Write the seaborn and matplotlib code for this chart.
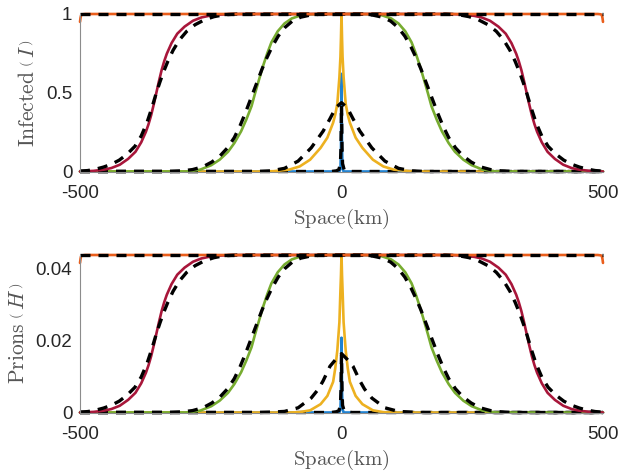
import matplotlib
matplotlib.use("Agg")
import matplotlib.pyplot as plt
import seaborn as sns

# ---------------- data ----------------
x_ticks = [-500, 0, 500]
x_tick_labels = ["-500", "0", "500"]
I_ticks = [0, 0.5, 1]
I_tick_labels = ["0", "0.5", "1"]
H_ticks = [0, 0.02, 0.04]
H_tick_labels = ["0", "0.02", "0.04"]

# blue snapshot
x_blue = [-500, -4, -2, -1, 0, 1, 2, 4, 500]
I_blue = [0, 0, 0.02, 0.15, 0.62, 0.15, 0.02, 0, 0]
H_blue = [0, 0, 0.001, 0.006, 0.0207, 0.006, 0.001, 0, 0]
x_blue_d = [-500, -20, -10, -5, -2, -1, 0, 1, 2, 5, 10, 20, 500]
I_blue_d = [0, 0, 0.004, 0.012, 0.05, 0.15, 0.42, 0.15, 0.05, 0.012, 0.004, 0, 0]
H_blue_d = [0, 0, 0.0002, 0.0005, 0.002, 0.006, 0.016, 0.006, 0.002, 0.0005, 0.0002, 0, 0]

# yellow snapshot
x_yel = [-500, -160, -130, -100, -80, -60, -40, -27, -16, -12, -8, -4, -2, -1, 0,
         1, 2, 4, 8, 12, 16, 27, 40, 60, 80, 100, 130, 160, 500]
I_yel = [0, 0, 0.002, 0.012, 0.032, 0.075, 0.15, 0.215, 0.31, 0.36, 0.43, 0.6, 0.73, 0.85, 1.0,
         0.85, 0.73, 0.6, 0.43, 0.36, 0.31, 0.215, 0.15, 0.075, 0.032, 0.012, 0.002, 0, 0]
H_yel = [0, 0, 0, 0, 0.0001, 0.0006, 0.0023, 0.0046, 0.0085, 0.0122, 0.0172, 0.025, 0.034, 0.038, 0.0436,
         0.038, 0.034, 0.025, 0.0172, 0.0122, 0.0085, 0.0046, 0.0023, 0.0006, 0.0001, 0, 0, 0, 0]
x_yel_d = [-500, -160, -135, -109, -83, -58, -44, -35, -22, -11, 0,
           11, 22, 35, 44, 58, 83, 109, 135, 160, 500]
I_yel_d = [0, 0, 0.004, 0.02, 0.066, 0.15, 0.215, 0.257, 0.335, 0.405, 0.437,
           0.405, 0.335, 0.257, 0.215, 0.15, 0.066, 0.02, 0.004, 0, 0]
H_yel_d = [0, 0, 0.0001, 0.0003, 0.0013, 0.004, 0.0065, 0.0088, 0.0128, 0.0147, 0.0163,
           0.0147, 0.0128, 0.0088, 0.0065, 0.004, 0.0013, 0.0003, 0.0001, 0, 0]

# green snapshot
x_grn = [-500, -300, -290, -270, -249, -233, -217, -205, -192, -182, -172, -165, -158, -150, -142,
         -134, -122, -109, -95, -77, -60, -40,
         40, 60, 77, 95, 109, 122, 134, 142, 150, 158, 165, 172, 182, 192, 205, 217, 233, 249,
         270, 290, 300, 500]
I_grn = [0, 0, 0.002, 0.012, 0.04, 0.075, 0.125, 0.18, 0.255, 0.33, 0.415, 0.50, 0.58, 0.67, 0.75,
         0.82, 0.89, 0.94, 0.972, 0.992, 0.998, 1.0,
         1.0, 0.998, 0.992, 0.972, 0.94, 0.89, 0.82, 0.75, 0.67, 0.58, 0.50, 0.415, 0.33, 0.255,
         0.18, 0.125, 0.075, 0.04, 0.012, 0.002, 0, 0]
H_grn = [0, 0, 0.00009, 0.00052, 0.00174, 0.00327, 0.00545, 0.00785, 0.01112, 0.01439, 0.01809,
         0.0218, 0.02529, 0.02921, 0.0327, 0.03575, 0.0388, 0.04098, 0.04238, 0.04325, 0.04351, 0.0436,
         0.0436, 0.04351, 0.04325, 0.04238, 0.04098, 0.0388, 0.03575, 0.0327, 0.02921, 0.02529,
         0.0218, 0.01809, 0.01439, 0.01112, 0.00785, 0.00545, 0.00327, 0.00174, 0.00052, 0.00009, 0, 0]
x_grn_d = [-500, -330, -305, -285, -265, -248, -232, -218, -205, -194, -184, -176, -168, -160,
           -152, -143, -133, -121, -108, -94, -78, -60, -40, -20,
           20, 40, 60, 78, 94, 108, 121, 133, 143, 152, 160, 168, 176, 184, 194, 205, 218, 232,
           248, 265, 285, 305, 330, 500]
I_grn_d = [0, 0, 0.004, 0.012, 0.03, 0.06, 0.10, 0.15, 0.215, 0.29, 0.37, 0.44, 0.51, 0.58,
           0.65, 0.72, 0.79, 0.86, 0.915, 0.955, 0.98, 0.993, 0.999, 1.0,
           1.0, 0.999, 0.993, 0.98, 0.955, 0.915, 0.86, 0.79, 0.72, 0.65, 0.58, 0.51, 0.44, 0.37,
           0.29, 0.215, 0.15, 0.10, 0.06, 0.03, 0.012, 0.004, 0, 0]
H_grn_d = [0, 0, 0.00017, 0.00052, 0.00131, 0.00262, 0.00436, 0.00654, 0.00937, 0.01264, 0.01613,
           0.01918, 0.02224, 0.02529, 0.02834, 0.03139, 0.03444, 0.0375, 0.03989, 0.04164, 0.04273,
           0.04329, 0.04356, 0.0436,
           0.0436, 0.04356, 0.04329, 0.04273, 0.04164, 0.03989, 0.0375, 0.03444, 0.03139, 0.02834,
           0.02529, 0.02224, 0.01918, 0.01613, 0.01264, 0.00937, 0.00654, 0.00436, 0.00262, 0.00131,
           0.00052, 0.00017, 0, 0]

# red snapshot
x_red = [-500, -494, -474, -454, -440, -424, -408, -394, -383, -374, -369, -364, -359, -354, -349,
         -344, -339, -334, -325, -314, -300, -284, -268, -254, -234, -214, -190,
         190, 214, 234, 254, 268, 284, 300, 314, 325, 334, 339, 344, 349, 354, 359, 364, 369, 374,
         383, 394, 408, 424, 440, 454, 474, 494, 500]
I_red = [0, 0.001, 0.004, 0.012, 0.022, 0.043, 0.08, 0.125, 0.185, 0.252, 0.30, 0.357, 0.426, 0.5,
         0.574, 0.643, 0.70, 0.748, 0.815, 0.875, 0.92, 0.957, 0.978, 0.988, 0.996, 0.999, 1.0,
         1.0, 0.999, 0.996, 0.988, 0.978, 0.957, 0.92, 0.875, 0.815, 0.748, 0.70, 0.643, 0.574, 0.5,
         0.426, 0.357, 0.30, 0.252, 0.185, 0.125, 0.08, 0.043, 0.022, 0.012, 0.004, 0.001, 0]
H_red = [0, 0.00004, 0.00017, 0.00052, 0.00096, 0.00187, 0.00349, 0.00545, 0.00807, 0.01099,
         0.01308, 0.01557, 0.01857, 0.0218, 0.02503, 0.02803, 0.03052, 0.03261, 0.03553, 0.03815,
         0.04011, 0.04173, 0.04264, 0.04308, 0.04343, 0.04356, 0.0436,
         0.0436, 0.04356, 0.04343, 0.04308, 0.04264, 0.04173, 0.04011, 0.03815, 0.03553, 0.03261,
         0.03052, 0.02803, 0.02503, 0.0218, 0.01857, 0.01557, 0.01308, 0.01099, 0.00807, 0.00545,
         0.00349, 0.00187, 0.00096, 0.00052, 0.00017, 0.00004, 0]
x_red_d = [-500, -485, -470, -455, -440, -425, -410, -395, -383, -372, -363, -354, -347, -340,
           -332, -322, -310, -296, -280, -262, -244, -225, -200,
           200, 225, 244, 262, 280, 296, 310, 322, 332, 340, 347, 354, 363, 372, 383, 395, 410,
           425, 440, 455, 470, 485, 500]
I_red_d = [0.002, 0.006, 0.015, 0.028, 0.046, 0.072, 0.11, 0.16, 0.225, 0.31, 0.40, 0.50, 0.57,
           0.635, 0.70, 0.77, 0.835, 0.89, 0.932, 0.963, 0.983, 0.995, 1.0,
           1.0, 0.995, 0.983, 0.963, 0.932, 0.89, 0.835, 0.77, 0.70, 0.635, 0.57, 0.50, 0.40, 0.31,
           0.225, 0.16, 0.11, 0.072, 0.046, 0.028, 0.015, 0.006, 0.002]
H_red_d = [0.00009, 0.00026, 0.00065, 0.00122, 0.00201, 0.00314, 0.0048, 0.00698, 0.00981,
           0.01352, 0.01744, 0.0218, 0.02485, 0.02769, 0.03052, 0.03357, 0.03641, 0.0388, 0.04064,
           0.04199, 0.04286, 0.04338, 0.0436,
           0.0436, 0.04338, 0.04286, 0.04199, 0.04064, 0.0388, 0.03641, 0.03357, 0.03052, 0.02769,
           0.02485, 0.0218, 0.01744, 0.01352, 0.00981, 0.00698, 0.0048, 0.00314, 0.00201, 0.00122,
           0.00065, 0.00026, 0.00009]

# orange snapshot
x_org = [-500, -499, -498, -496, -490, 490, 496, 498, 499, 500]
I_org = [0.95, 0.975, 0.99, 0.998, 1.0, 1.0, 0.998, 0.99, 0.975, 0.95]
H_org = [0.0414, 0.0425, 0.0432, 0.0435, 0.0436, 0.0436, 0.0435, 0.0432, 0.0425, 0.0414]
x_org_d = [-500, 500]
I_org_d = [1.0, 1.0]
H_org_d = [0.0436, 0.0436]

colors = {"blue": "#1f82d2", "yellow": "#EDB120", "green": "#77AC30",
          "red": "#A8163A", "orange": "#EA5E1C"}

# ---------------- styling ----------------
sns.set_style("white")
plt.rcParams["font.family"] = ["Liberation Sans", "DejaVu Sans"]
plt.rcParams["mathtext.fontset"] = "cm"

fig = plt.figure(figsize=(6.2, 4.71), dpi=100)
ax1 = fig.add_axes([80 / 620, 1 - 171.5 / 471, 523 / 620, 157.5 / 471])
ax2 = fig.add_axes([80 / 620, 1 - 412.5 / 471, 523 / 620, 157.5 / 471])

SOLID_LW = 1.9
DASH_LW = 2.4
DASH = (0, (3.0, 2.4))


def draw(ax, x, y, color=None, dashed=False):
    if dashed:
        sns.lineplot(x=x, y=y, ax=ax, color="black", linewidth=DASH_LW, linestyle=DASH,
                     clip_on=False, errorbar=None, sort=False)
    else:
        sns.lineplot(x=x, y=y, ax=ax, color=color, linewidth=SOLID_LW,
                     clip_on=False, errorbar=None, sort=False)


series = [
    ("blue", x_blue, I_blue, H_blue, x_blue_d, I_blue_d, H_blue_d),
    ("yellow", x_yel, I_yel, H_yel, x_yel_d, I_yel_d, H_yel_d),
    ("green", x_grn, I_grn, H_grn, x_grn_d, I_grn_d, H_grn_d),
    ("red", x_red, I_red, H_red, x_red_d, I_red_d, H_red_d),
    ("orange", x_org, I_org, H_org, x_org_d, I_org_d, H_org_d),
]

for name, xs, I, H, xd, Id, Hd in series:
    draw(ax1, xs, I, colors[name])
    draw(ax1, xd, Id, dashed=True)
    draw(ax2, xs, H, colors[name])
    draw(ax2, xd, Hd, dashed=True)

ax1.set_ylim(0, 1)
ax2.set_ylim(0, 0.0436)
ax1.set_yticks(I_ticks)
ax1.set_yticklabels(I_tick_labels)
ax2.set_yticks(H_ticks)
ax2.set_yticklabels(H_tick_labels)

label_color = "#555555"
for ax, ylab in ((ax1, r"$\mathrm{Infected}\;\left(\,I\,\right)$"),
                 (ax2, r"$\mathrm{Prions}\;\left(\,H\,\right)$")):
    ax.set_xlim(-500, 500)
    ax.set_xticks(x_ticks)
    ax.set_xticklabels(x_tick_labels)
    sns.despine(ax=ax)
    for sp in ("left", "bottom"):
        ax.spines[sp].set_color("#8c8c8c")
        ax.spines[sp].set_linewidth(0.8)
    ax.tick_params(axis="both", direction="in", length=4, width=0.8, color="#8c8c8c",
                   labelsize=13.5, labelcolor="#262626")
    ax.tick_params(axis="x", pad=10)
    ax.tick_params(axis="y", pad=5.5)
    ax.set_xlabel(r"$\mathrm{Space(km)}$", fontsize=15, color=label_color, labelpad=3)
    ax.set_ylabel(ylab, fontsize=15.5, color=label_color, labelpad=5)

fig.savefig("out.png", dpi=100)
